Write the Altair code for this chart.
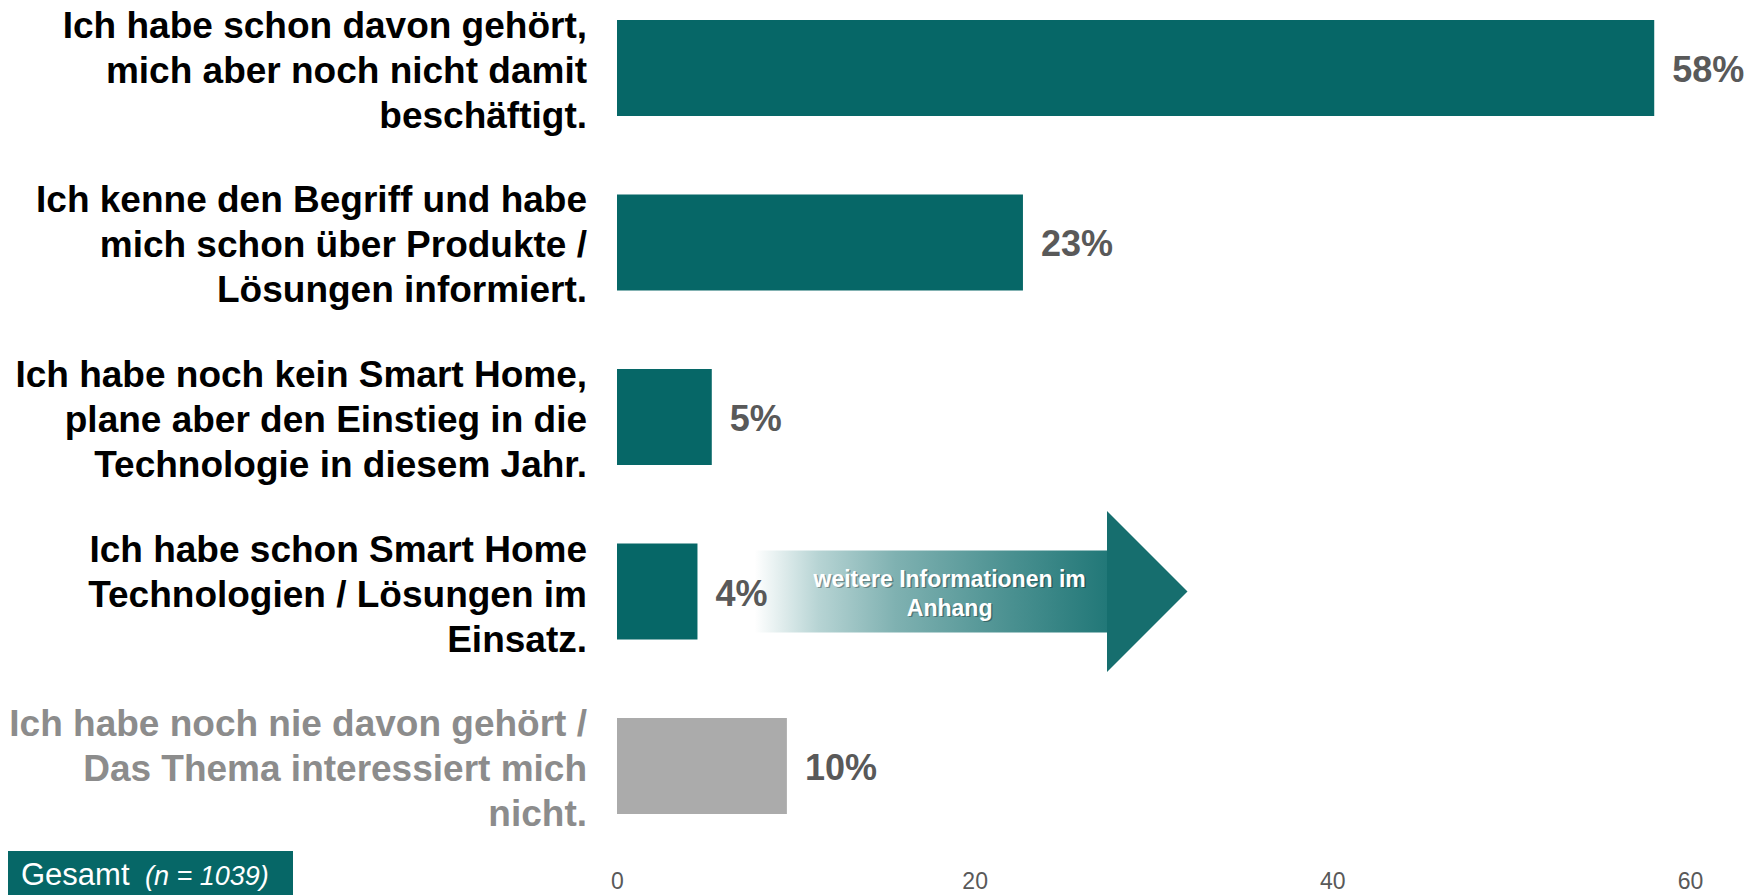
import altair as alt
import pandas as pd

# ---- data ----
categories = [
    "Ich habe schon davon gehört,\nmich aber noch nicht damit\nbeschäftigt.",
    "Ich kenne den Begriff und habe\nmich schon über Produkte /\nLösungen informiert.",
    "Ich habe noch kein Smart Home,\nplane aber den Einstieg in die\nTechnologie in diesem Jahr.",
    "Ich habe schon Smart Home\nTechnologien / Lösungen im\nEinsatz.",
    "Ich habe noch nie davon gehört /\nDas Thema interessiert mich\nnicht.",
]
values = [58.0, 22.7, 5.3, 4.5, 9.5]
value_labels = ["58%", "23%", "5%", "4%", "10%"]
groups = ["interessiert", "interessiert", "interessiert", "interessiert", "kein Interesse"]
tick_values = [0, 20, 40, 60]
arrow_text = "weitere Informationen im\nAnhang"
footer_main = "Gesamt"
footer_n = "(n = 1039)"

TEAL = "#066767"
GRAY = "#ababab"
FONT = "Liberation Sans"

df = pd.DataFrame({"cat": categories, "value": values, "label": value_labels, "group": groups})

y_enc = alt.Y("cat:N", sort=categories, axis=None,
              scale=alt.Scale(domain=categories, paddingInner=0.45, paddingOuter=0))
x_scale = alt.Scale(domain=[0, 60], nice=False, zero=True)

base = alt.Chart(df)

bars = base.mark_bar().encode(
    x=alt.X("value:Q", scale=x_scale,
            axis=alt.Axis(values=tick_values, title=None, domain=False, ticks=False, grid=False,
                          labelFlush=False, labelFontSize=23, labelColor="#595959",
                          labelFont=FONT, labelPadding=56)),
    y=y_enc,
    color=alt.condition(alt.datum.group == "kein Interesse", alt.value(GRAY), alt.value(TEAL)),
)

value_text = base.mark_text(align="left", baseline="middle", dx=18, dy=3, fontSize=36,
                            fontWeight="bold", font=FONT, color="#595959").encode(
    x=alt.X("value:Q", scale=x_scale), y=y_enc, text="label:N")

cat_text = base.mark_text(align="right", baseline="middle", lineBreak="\n", lineHeight=45,
                          dy=-41, fontSize=37, fontWeight="bold", font=FONT).encode(
    x=alt.value(-30), y=y_enc, text="cat:N",
    color=alt.condition(alt.datum.group == "kein Interesse", alt.value("#8c8c8c"),
                        alt.value("#000000")),
)

# ---- annotation arrow ("weitere Informationen im Anhang") ----
arrow_df = pd.DataFrame({"cat": [categories[3]], "x0": [7.7], "x1": [27.4], "head": [29.65],
                         "mid": [18.6], "txt": [arrow_text]})
arrow_base = alt.Chart(arrow_df)
grad = alt.LinearGradient(gradient="linear", x1=0, x2=1, y1=0, y2=0, stops=[
    alt.GradientStop(color="#ffffff", offset=0),
    alt.GradientStop(color="#b7d4d4", offset=0.18),
    alt.GradientStop(color="#7fb1b1", offset=0.4),
    alt.GradientStop(color="#4b9191", offset=0.72),
    alt.GradientStop(color="#227878", offset=1),
])
shaft = arrow_base.mark_bar(size=82, color=grad).encode(
    x=alt.X("x0:Q", scale=x_scale), x2="x1:Q", y=y_enc)
head = arrow_base.mark_point(shape="M -0.5 -1 L 0.5 0 L -0.5 1 Z", filled=True, size=161 * 161,
                             color="#166e6e", opacity=1, strokeWidth=0).encode(
    x=alt.X("head:Q", scale=x_scale), y=y_enc)
arrow_shadow = arrow_base.mark_text(align="center", baseline="middle", lineBreak="\n", lineHeight=29,
                                    fontSize=23, fontWeight="bold", font=FONT, color="#000000",
                                    opacity=0.3, dx=1.5, dy=-10.5).encode(
    x=alt.X("mid:Q", scale=x_scale), y=y_enc, text="txt:N")
arrow_label = arrow_base.mark_text(align="center", baseline="middle", lineBreak="\n", lineHeight=29,
                                   fontSize=23, fontWeight="bold", font=FONT, color="#ffffff",
                                   dy=-12).encode(
    x=alt.X("mid:Q", scale=x_scale), y=y_enc, text="txt:N")

# ---- footer box ----
foot_df = pd.DataFrame({"a": [footer_main], "b": [footer_n]})
foot_base = alt.Chart(foot_df)
foot_box = foot_base.mark_rect(color=TEAL).encode(
    x=alt.value(-609), x2=alt.value(-324), y=alt.value(831), y2=alt.value(876))
foot_t1 = foot_base.mark_text(align="left", baseline="middle", fontSize=31, font=FONT,
                              color="#ffffff").encode(x=alt.value(-596), y=alt.value(856), text="a:N")
foot_t2 = foot_base.mark_text(align="left", baseline="middle", fontSize=27, font=FONT,
                              fontStyle="italic", color="#ffffff").encode(
    x=alt.value(-472), y=alt.value(857), text="b:N")

chart = alt.layer(bars, cat_text, shaft, head, arrow_shadow, arrow_label, value_text,
                  foot_box, foot_t1, foot_t2).properties(
    width=1073, height=794,
    padding={"left": 609, "top": 12, "right": 65, "bottom": 81},
    autosize=alt.AutoSizeParams(type="none"),
).configure_view(stroke=None)

chart.save("out.html", embed_options={"renderer": "svg", "actions": False})
